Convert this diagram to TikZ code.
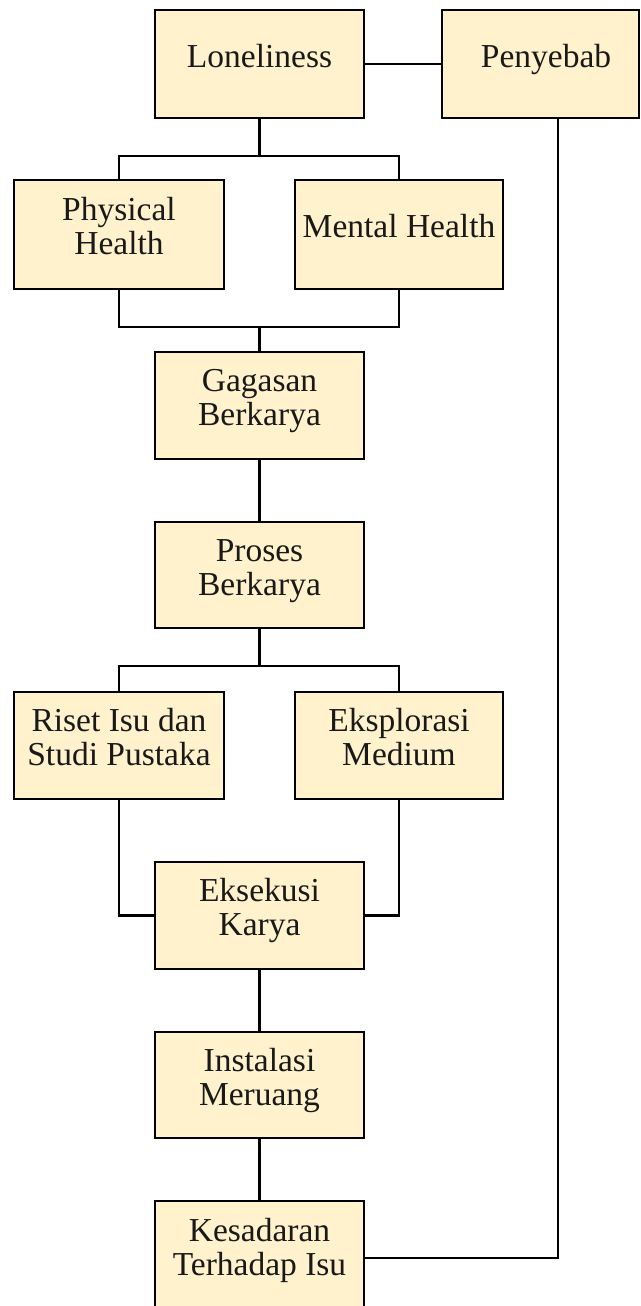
\documentclass[tikz,border=0pt]{standalone}
\usepackage{fontspec}
\setmainfont{Liberation Serif}
\definecolor{boxfill}{HTML}{FFF2CC}
\begin{document}
\begin{tikzpicture}[x=1pt,y=-1pt,
  box/.style={draw=black,line width=2.6pt,fill=boxfill,inner sep=0pt,
    minimum width=209pt,minimum height=107pt},
  txt/.style={align=center,font=\fontsize{33.5}{34}\selectfont,inner sep=0pt,yshift=3.5pt,text=black!90},
  conn/.style={draw=black,line width=2.3pt}]
\useasboundingbox (0,0) rectangle (640,1306);
\fill[white] (0,0) rectangle (640,1306);
\node[box,minimum height=108pt,label={[txt]center:\strut Loneliness}] (lone) at (259.5,64) {};
\node[box,minimum width=197pt,minimum height=108pt,label={[txt,xshift=5.5pt]center:\strut Penyebab}] (peny) at (540.5,64) {};
\node[box,minimum width=210pt,minimum height=109pt,label={[txt]center:\strut Physical\\\strut Health}] (phys) at (119,234.5) {};
\node[box,minimum width=208pt,minimum height=109pt,label={[txt]center:\strut Mental Health}] (ment) at (399,234.5) {};
\node[box,label={[txt]center:\strut Gagasan\\\strut Berkarya}] (gag) at (259.5,405.5) {};
\node[box,minimum height=106pt,label={[txt]center:\strut Proses\\\strut Berkarya}] (pro) at (259.5,575) {};
\node[box,minimum width=210pt,label={[txt]center:\strut Riset Isu dan\\\strut Studi Pustaka}] (riset) at (119,745.5) {};
\node[box,minimum width=208pt,label={[txt]center:\strut Eksplorasi\\\strut Medium}] (eksp) at (399,745.5) {};
\node[box,label={[txt]center:\strut Eksekusi\\\strut Karya}] (eksek) at (259.5,915.5) {};
\node[box,minimum height=106pt,label={[txt]center:\strut Instalasi\\\strut Meruang}] (inst) at (259.5,1085) {};
\node[box,minimum height=109pt,label={[txt]center:\strut Kesadaran\\\strut Terhadap Isu}] (kes) at (259.5,1255.5) {};
\coordinate (j1) at (259.5,156);
\coordinate (j2) at (259.5,327);
\coordinate (j3) at (259.5,666);
\coordinate (pdrop) at (558,118);
\draw[conn] (lone.east) -- (peny.west);
\draw[conn] (lone.south) -- (j1);
\draw[conn] (j1) -| (phys.north);
\draw[conn] (j1) -| (ment.north);
\draw[conn] (phys.south) |- (j2);
\draw[conn] (ment.south) |- (j2);
\draw[conn] (j2) -- (gag.north);
\draw[conn] (gag.south) -- (pro.north);
\draw[conn] (pro.south) -- (j3);
\draw[conn] (j3) -| (riset.north);
\draw[conn] (j3) -| (eksp.north);
\draw[conn] (riset.south) |- (eksek.west);
\draw[conn] (eksp.south) |- (eksek.east);
\draw[conn] (eksek.south) -- (inst.north);
\draw[conn] (inst.south) -- (kes.north);
\draw[conn] ([yshift=-2.5pt]kes.east) -| (pdrop);
\end{tikzpicture}
\end{document}
